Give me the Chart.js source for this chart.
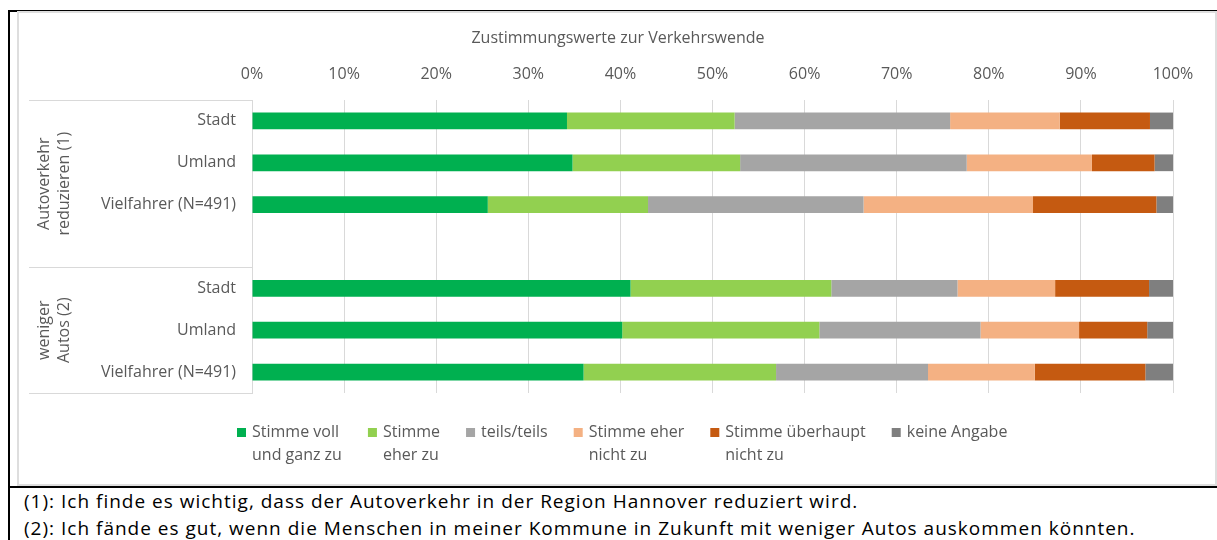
<!DOCTYPE html>
<html lang="de">
<head>
<meta charset="utf-8">
<title>Zustimmungswerte zur Verkehrswende</title>
<script src="https://cdn.jsdelivr.net/npm/chart.js@4.4.1/dist/chart.umd.min.js"></script>
<style>
  html, body { margin: 0; padding: 0; background: #fff; overflow: hidden; }
  body { width: 1217px; height: 540px; position: relative; }
  .outer { position: absolute; left: 8px; top: 10px; width: 1230px; height: 560px; border: 2px solid #000; box-sizing: border-box; }
  .divider { position: absolute; left: 8px; top: 486px; width: 1220px; height: 2px; background: #000; }
  .frame { position: absolute; left: 17px; top: 11px; width: 1200px; height: 475px; border: 2px solid #dedede; box-sizing: border-box; }
  .notes { position: absolute; left: 24px; top: 488px; font-family: "Open Sans", sans-serif; font-size: 19px; line-height: 27px; letter-spacing: 1px; color: #000; white-space: nowrap; }
  canvas { position: absolute; left: 0; top: 0; }
</style>
</head>
<body>
<div class="outer"></div>
<div class="frame"></div>
<div class="divider"></div>
<div class="notes">
  <div>(1): Ich finde es wichtig, dass der Autoverkehr in der Region Hannover reduziert wird.</div>
  <div>(2): Ich fände es gut, wenn die Menschen in meiner Kommune in Zukunft mit weniger Autos auskommen könnten.</div>
</div>
<canvas id="chart" width="1217" height="540"></canvas>
<script>
// Daten (Anteile in %)
const categories = ["Stadt", "Umland", "Vielfahrer (N=491)", "", "Stadt", "Umland", "Vielfahrer (N=491)"];
const vollUndGanz     = [34.2, 34.8, 25.6, null, 41.1, 40.2, 36.0];
const eherZu          = [18.2, 18.2, 17.4, null, 21.8, 21.4, 20.9];
const teilsTeils      = [23.4, 24.6, 23.4, null, 13.7, 17.5, 16.5];
const eherNichtZu     = [11.9, 13.6, 18.4, null, 10.6, 10.7, 11.6];
const ueberhauptNicht = [9.8, 6.8, 13.4, null, 10.2, 7.4, 12.0];
const keineAngabe     = [2.5, 2.0, 1.8, null, 2.6, 2.8, 3.0];

const seriesLabels = [
  ["Stimme voll", "und ganz zu"],
  ["Stimme", "eher zu"],
  ["teils/teils"],
  ["Stimme eher", "nicht zu"],
  ["Stimme überhaupt", "nicht zu"],
  ["keine Angabe"]
];
const seriesColors = ["#00B050", "#92D050", "#A5A5A5", "#F4B183", "#C55A11", "#7F7F7F"];
const groups = [
  { lines: ["Autoverkehr", "reduzieren (1)"], from: 0, to: 3 },
  { lines: ["weniger", "Autos (2)"], from: 4, to: 6 }
];
const chartTitle = "Zustimmungswerte zur Verkehrswende";

const FONT = "'Open Sans', sans-serif";
const TEXT = "#595959";
const LINE = "#d9d9d9";

/* Titel, Gruppenbeschriftung links, Legende unten */
const extras = {
  id: "extras",
  afterDraw(chart) {
    const { ctx, chartArea, scales } = chart;
    const y = scales.y;
    ctx.save();
    ctx.fillStyle = TEXT;
    ctx.font = "16px " + FONT;
    ctx.textAlign = "center";
    ctx.textBaseline = "middle";
    ctx.fillText(chartTitle, 618, 38);

    // Gruppen
    ctx.strokeStyle = LINE;
    ctx.lineWidth = 1;
    groups.forEach(g => {
      const top = g.from === 0 ? chartArea.top
        : (y.getPixelForValue(g.from - 1) + y.getPixelForValue(g.from)) / 2;
      const bottom = g.to === categories.length - 1 ? chartArea.bottom
        : (y.getPixelForValue(g.to) + y.getPixelForValue(g.to + 1)) / 2;
      [top, bottom].forEach(py => {
        ctx.beginPath();
        ctx.moveTo(29, Math.round(py) + 0.5);
        ctx.lineTo(chartArea.left, Math.round(py) + 0.5);
        ctx.stroke();
      });
      ctx.save();
      ctx.translate(54, (top + bottom) / 2);
      ctx.rotate(-Math.PI / 2);
      g.lines.forEach((t, i) => {
        ctx.fillText(t, 0, (i - (g.lines.length - 1) / 2) * 20);
      });
      ctx.restore();
    });

    // Legende
    ctx.textAlign = "left";
    let x = 237;
    const y1 = 432;
    chart.data.datasets.forEach((ds, i) => {
      ctx.fillStyle = ds.backgroundColor;
      ctx.fillRect(x, y1 - 4, 9, 9);
      ctx.fillStyle = TEXT;
      let w = 0;
      seriesLabels[i].forEach((t, k) => {
        ctx.fillText(t, x + 15, y1 + k * 23);
        w = Math.max(w, ctx.measureText(t).width);
      });
      x += 15 + w + 26;
    });
    ctx.restore();
  }
};

const series = [vollUndGanz, eherZu, teilsTeils, eherNichtZu, ueberhauptNicht, keineAngabe];

new Chart(document.getElementById("chart"), {
  type: "bar",
  data: {
    labels: categories,
    datasets: series.map((d, i) => ({
      label: seriesLabels[i].join(" "),
      data: d,
      backgroundColor: seriesColors[i],
      borderWidth: 0,
      categoryPercentage: 1,
      barPercentage: 0.4
    }))
  },
  options: {
    indexAxis: "y",
    responsive: false,
    animation: false,
    events: [],
    layout: { padding: { left: 0, right: 44, top: 0, bottom: 147 } },
    font: { family: FONT },
    plugins: {
      legend: { display: false },
      tooltip: { enabled: false },
      title: { display: false }
    },
    scales: {
      x: {
        position: "top",
        stacked: true,
        min: 0,
        max: 100,
        afterFit: s => { s.height = 100; },
        ticks: {
          stepSize: 10,
          padding: 16,
          maxRotation: 0,
          color: TEXT,
          font: { family: FONT, size: 16 },
          callback: v => v + "%"
        },
        grid: { color: LINE, drawTicks: false },
        border: { display: false }
      },
      y: {
        stacked: true,
        afterFit: s => { s.width = 252; },
        ticks: {
          padding: 16,
          color: TEXT,
          font: { family: FONT, size: 16 }
        },
        grid: { display: false, drawTicks: false },
        border: { display: true, color: LINE }
      }
    }
  },
  plugins: [extras]
});
</script>
</body>
</html>
